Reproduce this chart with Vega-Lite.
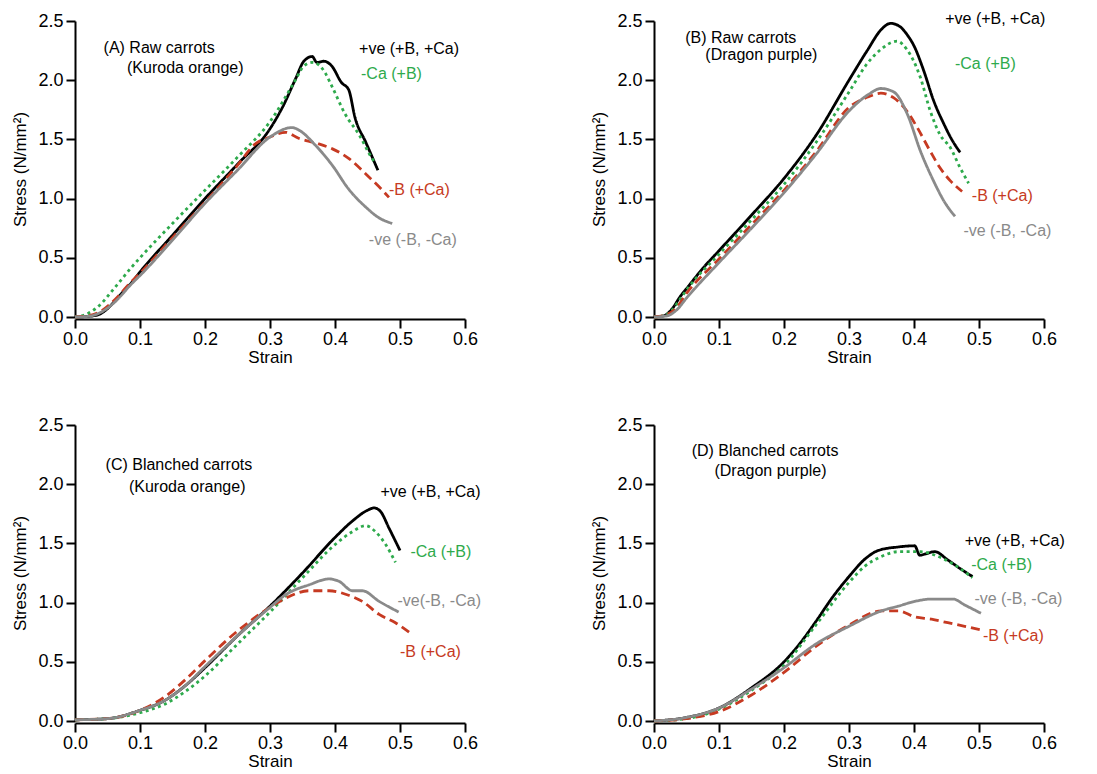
{
  "$schema": "https://vega.github.io/schema/vega-lite/v6.json",
  "padding": {"left": 11, "top": 10, "right": 5, "bottom": 0},
  "background": "white",
  "config": {
    "font": "Liberation Sans",
    "view": {"stroke": null},
    "header": {"labels": false, "title": null, "labelFontSize": 0, "labelPadding": 0, "labelExpr": "''"},
    "axis": {"grid": false, "labelFlush": false, "domainColor": "black", "domainWidth": 2, "tickColor": "black", "tickWidth": 2, "tickSize": 9, "labelFontSize": 18, "labelColor": "black", "titleFontSize": 17, "titleFontWeight": "normal", "titleColor": "black", "labelFont": "Liberation Sans", "titleFont": "Liberation Sans"}
  },
  "data": {"values": [
    {"k":"L","p":"A","s":"pos","x":0,"y":0},{"k":"L","p":"A","s":"pos","x":0.02,"y":0.005},{"k":"L","p":"A","s":"pos","x":0.036,"y":0.02},{"k":"L","p":"A","s":"pos","x":0.05,"y":0.07},{"k":"L","p":"A","s":"pos","x":0.062,"y":0.14},{"k":"L","p":"A","s":"pos","x":0.075,"y":0.22},{"k":"L","p":"A","s":"pos","x":0.087,"y":0.29},{"k":"L","p":"A","s":"pos","x":0.1,"y":0.38},{"k":"L","p":"A","s":"pos","x":0.15,"y":0.69},{"k":"L","p":"A","s":"pos","x":0.2,"y":1.0},{"k":"L","p":"A","s":"pos","x":0.25,"y":1.29},{"k":"L","p":"A","s":"pos","x":0.3,"y":1.59},{"k":"L","p":"A","s":"pos","x":0.32,"y":1.78},{"k":"L","p":"A","s":"pos","x":0.34,"y":2.02},{"k":"L","p":"A","s":"pos","x":0.352,"y":2.16},{"k":"L","p":"A","s":"pos","x":0.365,"y":2.2},{"k":"L","p":"A","s":"pos","x":0.372,"y":2.15},{"k":"L","p":"A","s":"pos","x":0.383,"y":2.16},{"k":"L","p":"A","s":"pos","x":0.395,"y":2.12},{"k":"L","p":"A","s":"pos","x":0.41,"y":1.98},{"k":"L","p":"A","s":"pos","x":0.421,"y":1.92},{"k":"L","p":"A","s":"pos","x":0.431,"y":1.68},{"k":"L","p":"A","s":"pos","x":0.447,"y":1.48},{"k":"L","p":"A","s":"pos","x":0.466,"y":1.24},
    {"k":"L","p":"A","s":"noCa","x":0,"y":0},{"k":"L","p":"A","s":"noCa","x":0.02,"y":0.03},{"k":"L","p":"A","s":"noCa","x":0.036,"y":0.09},{"k":"L","p":"A","s":"noCa","x":0.06,"y":0.24},{"k":"L","p":"A","s":"noCa","x":0.087,"y":0.42},{"k":"L","p":"A","s":"noCa","x":0.1,"y":0.5},{"k":"L","p":"A","s":"noCa","x":0.15,"y":0.79},{"k":"L","p":"A","s":"noCa","x":0.2,"y":1.07},{"k":"L","p":"A","s":"noCa","x":0.25,"y":1.35},{"k":"L","p":"A","s":"noCa","x":0.3,"y":1.65},{"k":"L","p":"A","s":"noCa","x":0.339,"y":2.0},{"k":"L","p":"A","s":"noCa","x":0.352,"y":2.12},{"k":"L","p":"A","s":"noCa","x":0.365,"y":2.15},{"k":"L","p":"A","s":"noCa","x":0.375,"y":2.13},{"k":"L","p":"A","s":"noCa","x":0.385,"y":2.06},{"k":"L","p":"A","s":"noCa","x":0.396,"y":1.94},{"k":"L","p":"A","s":"noCa","x":0.416,"y":1.71},{"k":"L","p":"A","s":"noCa","x":0.437,"y":1.54},{"k":"L","p":"A","s":"noCa","x":0.457,"y":1.34},{"k":"L","p":"A","s":"noCa","x":0.462,"y":1.3},
    {"k":"L","p":"A","s":"noB","x":0,"y":0},{"k":"L","p":"A","s":"noB","x":0.02,"y":0.01},{"k":"L","p":"A","s":"noB","x":0.04,"y":0.05},{"k":"L","p":"A","s":"noB","x":0.062,"y":0.15},{"k":"L","p":"A","s":"noB","x":0.087,"y":0.3},{"k":"L","p":"A","s":"noB","x":0.1,"y":0.37},{"k":"L","p":"A","s":"noB","x":0.15,"y":0.67},{"k":"L","p":"A","s":"noB","x":0.2,"y":0.97},{"k":"L","p":"A","s":"noB","x":0.25,"y":1.28},{"k":"L","p":"A","s":"noB","x":0.277,"y":1.46},{"k":"L","p":"A","s":"noB","x":0.3,"y":1.52},{"k":"L","p":"A","s":"noB","x":0.324,"y":1.56},{"k":"L","p":"A","s":"noB","x":0.344,"y":1.51},{"k":"L","p":"A","s":"noB","x":0.37,"y":1.47},{"k":"L","p":"A","s":"noB","x":0.396,"y":1.42},{"k":"L","p":"A","s":"noB","x":0.421,"y":1.34},{"k":"L","p":"A","s":"noB","x":0.447,"y":1.21},{"k":"L","p":"A","s":"noB","x":0.473,"y":1.07},{"k":"L","p":"A","s":"noB","x":0.483,"y":1.01},
    {"k":"L","p":"A","s":"neg","x":0,"y":0},{"k":"L","p":"A","s":"neg","x":0.02,"y":0.005},{"k":"L","p":"A","s":"neg","x":0.04,"y":0.04},{"k":"L","p":"A","s":"neg","x":0.062,"y":0.13},{"k":"L","p":"A","s":"neg","x":0.087,"y":0.28},{"k":"L","p":"A","s":"neg","x":0.1,"y":0.35},{"k":"L","p":"A","s":"neg","x":0.15,"y":0.65},{"k":"L","p":"A","s":"neg","x":0.2,"y":0.96},{"k":"L","p":"A","s":"neg","x":0.25,"y":1.24},{"k":"L","p":"A","s":"neg","x":0.3,"y":1.52},{"k":"L","p":"A","s":"neg","x":0.334,"y":1.6},{"k":"L","p":"A","s":"neg","x":0.344,"y":1.58},{"k":"L","p":"A","s":"neg","x":0.37,"y":1.45},{"k":"L","p":"A","s":"neg","x":0.396,"y":1.28},{"k":"L","p":"A","s":"neg","x":0.421,"y":1.08},{"k":"L","p":"A","s":"neg","x":0.447,"y":0.93},{"k":"L","p":"A","s":"neg","x":0.467,"y":0.84},{"k":"L","p":"A","s":"neg","x":0.488,"y":0.79},

    {"k":"L","p":"B","s":"pos","x":0,"y":0},{"k":"L","p":"B","s":"pos","x":0.015,"y":0.01},{"k":"L","p":"B","s":"pos","x":0.028,"y":0.07},{"k":"L","p":"B","s":"pos","x":0.04,"y":0.17},{"k":"L","p":"B","s":"pos","x":0.053,"y":0.26},{"k":"L","p":"B","s":"pos","x":0.075,"y":0.41},{"k":"L","p":"B","s":"pos","x":0.1,"y":0.56},{"k":"L","p":"B","s":"pos","x":0.15,"y":0.86},{"k":"L","p":"B","s":"pos","x":0.2,"y":1.17},{"k":"L","p":"B","s":"pos","x":0.25,"y":1.54},{"k":"L","p":"B","s":"pos","x":0.3,"y":2.0},{"k":"L","p":"B","s":"pos","x":0.328,"y":2.25},{"k":"L","p":"B","s":"pos","x":0.35,"y":2.43},{"k":"L","p":"B","s":"pos","x":0.364,"y":2.48},{"k":"L","p":"B","s":"pos","x":0.379,"y":2.45},{"k":"L","p":"B","s":"pos","x":0.39,"y":2.38},{"k":"L","p":"B","s":"pos","x":0.4,"y":2.29},{"k":"L","p":"B","s":"pos","x":0.415,"y":2.08},{"k":"L","p":"B","s":"pos","x":0.43,"y":1.83},{"k":"L","p":"B","s":"pos","x":0.446,"y":1.63},{"k":"L","p":"B","s":"pos","x":0.458,"y":1.5},{"k":"L","p":"B","s":"pos","x":0.471,"y":1.39},
    {"k":"L","p":"B","s":"noCa","x":0,"y":0},{"k":"L","p":"B","s":"noCa","x":0.015,"y":0.01},{"k":"L","p":"B","s":"noCa","x":0.028,"y":0.06},{"k":"L","p":"B","s":"noCa","x":0.04,"y":0.15},{"k":"L","p":"B","s":"noCa","x":0.053,"y":0.25},{"k":"L","p":"B","s":"noCa","x":0.1,"y":0.53},{"k":"L","p":"B","s":"noCa","x":0.15,"y":0.82},{"k":"L","p":"B","s":"noCa","x":0.2,"y":1.12},{"k":"L","p":"B","s":"noCa","x":0.25,"y":1.48},{"k":"L","p":"B","s":"noCa","x":0.3,"y":1.9},{"k":"L","p":"B","s":"noCa","x":0.328,"y":2.14},{"k":"L","p":"B","s":"noCa","x":0.349,"y":2.26},{"k":"L","p":"B","s":"noCa","x":0.374,"y":2.33},{"k":"L","p":"B","s":"noCa","x":0.389,"y":2.26},{"k":"L","p":"B","s":"noCa","x":0.41,"y":2.02},{"k":"L","p":"B","s":"noCa","x":0.425,"y":1.74},{"k":"L","p":"B","s":"noCa","x":0.44,"y":1.54},{"k":"L","p":"B","s":"noCa","x":0.456,"y":1.43},{"k":"L","p":"B","s":"noCa","x":0.471,"y":1.26},{"k":"L","p":"B","s":"noCa","x":0.484,"y":1.13},
    {"k":"L","p":"B","s":"noB","x":0,"y":0},{"k":"L","p":"B","s":"noB","x":0.02,"y":0.02},{"k":"L","p":"B","s":"noB","x":0.035,"y":0.08},{"k":"L","p":"B","s":"noB","x":0.05,"y":0.2},{"k":"L","p":"B","s":"noB","x":0.1,"y":0.49},{"k":"L","p":"B","s":"noB","x":0.15,"y":0.78},{"k":"L","p":"B","s":"noB","x":0.2,"y":1.07},{"k":"L","p":"B","s":"noB","x":0.25,"y":1.4},{"k":"L","p":"B","s":"noB","x":0.3,"y":1.77},{"k":"L","p":"B","s":"noB","x":0.33,"y":1.86},{"k":"L","p":"B","s":"noB","x":0.349,"y":1.89},{"k":"L","p":"B","s":"noB","x":0.369,"y":1.85},{"k":"L","p":"B","s":"noB","x":0.389,"y":1.74},{"k":"L","p":"B","s":"noB","x":0.405,"y":1.6},{"k":"L","p":"B","s":"noB","x":0.425,"y":1.4},{"k":"L","p":"B","s":"noB","x":0.44,"y":1.26},{"k":"L","p":"B","s":"noB","x":0.456,"y":1.15},{"k":"L","p":"B","s":"noB","x":0.474,"y":1.06},
    {"k":"L","p":"B","s":"neg","x":0,"y":0},{"k":"L","p":"B","s":"neg","x":0.02,"y":0.01},{"k":"L","p":"B","s":"neg","x":0.035,"y":0.06},{"k":"L","p":"B","s":"neg","x":0.05,"y":0.16},{"k":"L","p":"B","s":"neg","x":0.1,"y":0.46},{"k":"L","p":"B","s":"neg","x":0.15,"y":0.75},{"k":"L","p":"B","s":"neg","x":0.2,"y":1.05},{"k":"L","p":"B","s":"neg","x":0.25,"y":1.38},{"k":"L","p":"B","s":"neg","x":0.3,"y":1.74},{"k":"L","p":"B","s":"neg","x":0.33,"y":1.88},{"k":"L","p":"B","s":"neg","x":0.349,"y":1.93},{"k":"L","p":"B","s":"neg","x":0.369,"y":1.9},{"k":"L","p":"B","s":"neg","x":0.39,"y":1.71},{"k":"L","p":"B","s":"neg","x":0.41,"y":1.4},{"k":"L","p":"B","s":"neg","x":0.43,"y":1.15},{"k":"L","p":"B","s":"neg","x":0.446,"y":0.98},{"k":"L","p":"B","s":"neg","x":0.463,"y":0.85},

    {"k":"L","p":"C","s":"pos","x":0,"y":0.01},{"k":"L","p":"C","s":"pos","x":0.05,"y":0.02},{"k":"L","p":"C","s":"pos","x":0.1,"y":0.09},{"k":"L","p":"C","s":"pos","x":0.137,"y":0.17},{"k":"L","p":"C","s":"pos","x":0.17,"y":0.3},{"k":"L","p":"C","s":"pos","x":0.2,"y":0.45},{"k":"L","p":"C","s":"pos","x":0.25,"y":0.72},{"k":"L","p":"C","s":"pos","x":0.3,"y":0.97},{"k":"L","p":"C","s":"pos","x":0.35,"y":1.25},{"k":"L","p":"C","s":"pos","x":0.4,"y":1.55},{"k":"L","p":"C","s":"pos","x":0.427,"y":1.69},{"k":"L","p":"C","s":"pos","x":0.45,"y":1.78},{"k":"L","p":"C","s":"pos","x":0.46,"y":1.8},{"k":"L","p":"C","s":"pos","x":0.47,"y":1.77},{"k":"L","p":"C","s":"pos","x":0.483,"y":1.63},{"k":"L","p":"C","s":"pos","x":0.5,"y":1.44},
    {"k":"L","p":"C","s":"noCa","x":0,"y":0.01},{"k":"L","p":"C","s":"noCa","x":0.05,"y":0.02},{"k":"L","p":"C","s":"noCa","x":0.1,"y":0.07},{"k":"L","p":"C","s":"noCa","x":0.137,"y":0.14},{"k":"L","p":"C","s":"noCa","x":0.17,"y":0.25},{"k":"L","p":"C","s":"noCa","x":0.2,"y":0.38},{"k":"L","p":"C","s":"noCa","x":0.25,"y":0.65},{"k":"L","p":"C","s":"noCa","x":0.3,"y":0.92},{"k":"L","p":"C","s":"noCa","x":0.35,"y":1.21},{"k":"L","p":"C","s":"noCa","x":0.4,"y":1.49},{"k":"L","p":"C","s":"noCa","x":0.427,"y":1.6},{"k":"L","p":"C","s":"noCa","x":0.447,"y":1.65},{"k":"L","p":"C","s":"noCa","x":0.462,"y":1.6},{"k":"L","p":"C","s":"noCa","x":0.478,"y":1.49},{"k":"L","p":"C","s":"noCa","x":0.493,"y":1.34},
    {"k":"L","p":"C","s":"noB","x":0,"y":0.01},{"k":"L","p":"C","s":"noB","x":0.05,"y":0.02},{"k":"L","p":"C","s":"noB","x":0.1,"y":0.09},{"k":"L","p":"C","s":"noB","x":0.137,"y":0.2},{"k":"L","p":"C","s":"noB","x":0.17,"y":0.35},{"k":"L","p":"C","s":"noB","x":0.2,"y":0.51},{"k":"L","p":"C","s":"noB","x":0.25,"y":0.76},{"k":"L","p":"C","s":"noB","x":0.3,"y":0.96},{"k":"L","p":"C","s":"noB","x":0.325,"y":1.04},{"k":"L","p":"C","s":"noB","x":0.36,"y":1.1},{"k":"L","p":"C","s":"noB","x":0.391,"y":1.1},{"k":"L","p":"C","s":"noB","x":0.422,"y":1.06},{"k":"L","p":"C","s":"noB","x":0.442,"y":1.01},{"k":"L","p":"C","s":"noB","x":0.468,"y":0.9},{"k":"L","p":"C","s":"noB","x":0.493,"y":0.83},{"k":"L","p":"C","s":"noB","x":0.519,"y":0.73},
    {"k":"L","p":"C","s":"neg","x":0,"y":0.01},{"k":"L","p":"C","s":"neg","x":0.05,"y":0.02},{"k":"L","p":"C","s":"neg","x":0.1,"y":0.09},{"k":"L","p":"C","s":"neg","x":0.137,"y":0.17},{"k":"L","p":"C","s":"neg","x":0.17,"y":0.3},{"k":"L","p":"C","s":"neg","x":0.2,"y":0.46},{"k":"L","p":"C","s":"neg","x":0.25,"y":0.72},{"k":"L","p":"C","s":"neg","x":0.3,"y":0.96},{"k":"L","p":"C","s":"neg","x":0.325,"y":1.07},{"k":"L","p":"C","s":"neg","x":0.36,"y":1.15},{"k":"L","p":"C","s":"neg","x":0.391,"y":1.2},{"k":"L","p":"C","s":"neg","x":0.406,"y":1.18},{"k":"L","p":"C","s":"neg","x":0.427,"y":1.1},{"k":"L","p":"C","s":"neg","x":0.442,"y":1.1},{"k":"L","p":"C","s":"neg","x":0.468,"y":1.01},{"k":"L","p":"C","s":"neg","x":0.498,"y":0.92},

    {"k":"L","p":"D","s":"pos","x":0,"y":0},{"k":"L","p":"D","s":"pos","x":0.05,"y":0.03},{"k":"L","p":"D","s":"pos","x":0.1,"y":0.11},{"k":"L","p":"D","s":"pos","x":0.15,"y":0.28},{"k":"L","p":"D","s":"pos","x":0.2,"y":0.5},{"k":"L","p":"D","s":"pos","x":0.228,"y":0.68},{"k":"L","p":"D","s":"pos","x":0.249,"y":0.84},{"k":"L","p":"D","s":"pos","x":0.274,"y":1.04},{"k":"L","p":"D","s":"pos","x":0.3,"y":1.22},{"k":"L","p":"D","s":"pos","x":0.325,"y":1.37},{"k":"L","p":"D","s":"pos","x":0.345,"y":1.44},{"k":"L","p":"D","s":"pos","x":0.376,"y":1.47},{"k":"L","p":"D","s":"pos","x":0.401,"y":1.48},{"k":"L","p":"D","s":"pos","x":0.409,"y":1.4},{"k":"L","p":"D","s":"pos","x":0.417,"y":1.41},{"k":"L","p":"D","s":"pos","x":0.432,"y":1.43},{"k":"L","p":"D","s":"pos","x":0.452,"y":1.36},{"k":"L","p":"D","s":"pos","x":0.473,"y":1.28},{"k":"L","p":"D","s":"pos","x":0.49,"y":1.22},
    {"k":"L","p":"D","s":"noCa","x":0,"y":0},{"k":"L","p":"D","s":"noCa","x":0.05,"y":0.02},{"k":"L","p":"D","s":"noCa","x":0.1,"y":0.1},{"k":"L","p":"D","s":"noCa","x":0.15,"y":0.26},{"k":"L","p":"D","s":"noCa","x":0.2,"y":0.47},{"k":"L","p":"D","s":"noCa","x":0.249,"y":0.81},{"k":"L","p":"D","s":"noCa","x":0.3,"y":1.17},{"k":"L","p":"D","s":"noCa","x":0.325,"y":1.31},{"k":"L","p":"D","s":"noCa","x":0.35,"y":1.39},{"k":"L","p":"D","s":"noCa","x":0.376,"y":1.43},{"k":"L","p":"D","s":"noCa","x":0.41,"y":1.43},{"k":"L","p":"D","s":"noCa","x":0.437,"y":1.39},{"k":"L","p":"D","s":"noCa","x":0.462,"y":1.32},{"k":"L","p":"D","s":"noCa","x":0.49,"y":1.21},
    {"k":"L","p":"D","s":"noB","x":0,"y":0},{"k":"L","p":"D","s":"noB","x":0.05,"y":0.02},{"k":"L","p":"D","s":"noB","x":0.1,"y":0.08},{"k":"L","p":"D","s":"noB","x":0.15,"y":0.22},{"k":"L","p":"D","s":"noB","x":0.2,"y":0.41},{"k":"L","p":"D","s":"noB","x":0.249,"y":0.63},{"k":"L","p":"D","s":"noB","x":0.3,"y":0.81},{"k":"L","p":"D","s":"noB","x":0.35,"y":0.93},{"k":"L","p":"D","s":"noB","x":0.376,"y":0.93},{"k":"L","p":"D","s":"noB","x":0.401,"y":0.88},{"k":"L","p":"D","s":"noB","x":0.427,"y":0.86},{"k":"L","p":"D","s":"noB","x":0.452,"y":0.83},{"k":"L","p":"D","s":"noB","x":0.478,"y":0.8},{"k":"L","p":"D","s":"noB","x":0.503,"y":0.77},
    {"k":"L","p":"D","s":"neg","x":0,"y":0},{"k":"L","p":"D","s":"neg","x":0.05,"y":0.03},{"k":"L","p":"D","s":"neg","x":0.1,"y":0.11},{"k":"L","p":"D","s":"neg","x":0.15,"y":0.27},{"k":"L","p":"D","s":"neg","x":0.2,"y":0.45},{"k":"L","p":"D","s":"neg","x":0.249,"y":0.65},{"k":"L","p":"D","s":"neg","x":0.3,"y":0.8},{"k":"L","p":"D","s":"neg","x":0.35,"y":0.93},{"k":"L","p":"D","s":"neg","x":0.376,"y":0.97},{"k":"L","p":"D","s":"neg","x":0.401,"y":1.01},{"k":"L","p":"D","s":"neg","x":0.427,"y":1.03},{"k":"L","p":"D","s":"neg","x":0.46,"y":1.03},{"k":"L","p":"D","s":"neg","x":0.478,"y":0.98},{"k":"L","p":"D","s":"neg","x":0.503,"y":0.91},

    {"k":"T","p":"A","s":"title","x":0.044,"y":2.27,"t":"(A) Raw carrots"},{"k":"T","p":"A","s":"title","x":0.08,"y":2.1,"t":"(Kuroda orange)"},{"k":"T","p":"A","s":"pos","x":0.437,"y":2.26,"t":"+ve (+B, +Ca)"},{"k":"T","p":"A","s":"noCa","x":0.44,"y":2.05,"t":"-Ca (+B)"},{"k":"T","p":"A","s":"noB","x":0.483,"y":1.07,"t":"-B (+Ca)"},{"k":"T","p":"A","s":"neg","x":0.452,"y":0.65,"t":"-ve (-B, -Ca)"},
    {"k":"T","p":"B","s":"title","x":0.048,"y":2.36,"t":"(B) Raw carrots"},{"k":"T","p":"B","s":"title","x":0.079,"y":2.21,"t":"(Dragon purple)"},{"k":"T","p":"B","s":"pos","x":0.448,"y":2.52,"t":"+ve (+B, +Ca)"},{"k":"T","p":"B","s":"noCa","x":0.463,"y":2.14,"t":"-Ca (+B)"},{"k":"T","p":"B","s":"noB","x":0.489,"y":1.02,"t":"-B (+Ca)"},{"k":"T","p":"B","s":"neg","x":0.476,"y":0.73,"t":"-ve (-B, -Ca)"},
    {"k":"T","p":"C","s":"title","x":0.047,"y":2.16,"t":"(C) Blanched carrots"},{"k":"T","p":"C","s":"title","x":0.083,"y":1.98,"t":"(Kuroda orange)"},{"k":"T","p":"C","s":"pos","x":0.47,"y":1.93,"t":"+ve (+B, +Ca)"},{"k":"T","p":"C","s":"noCa","x":0.516,"y":1.43,"t":"-Ca (+B)"},{"k":"T","p":"C","s":"neg","x":0.496,"y":1.01,"t":"-ve(-B, -Ca)"},{"k":"T","p":"C","s":"noB","x":0.5,"y":0.58,"t":"-B (+Ca)"},
    {"k":"T","p":"D","s":"title","x":0.058,"y":2.28,"t":"(D) Blanched carrots"},{"k":"T","p":"D","s":"title","x":0.093,"y":2.11,"t":"(Dragon purple)"},{"k":"T","p":"D","s":"pos","x":0.478,"y":1.52,"t":"+ve (+B, +Ca)"},{"k":"T","p":"D","s":"noCa","x":0.488,"y":1.32,"t":"-Ca (+B)"},{"k":"T","p":"D","s":"neg","x":0.493,"y":1.03,"t":"-ve (-B, -Ca)"},{"k":"T","p":"D","s":"noB","x":0.506,"y":0.72,"t":"-B (+Ca)"}
  ]},
  "facet": {"field": "p", "type": "nominal", "header": {"labels": false, "title": null, "labelExpr": "''", "labelFontSize": 0, "labelPadding": 0}},
  "columns": 2,
  "spacing": {"column": 104, "row": 51},
  "resolve": {"axis": {"x": "independent", "y": "independent"}},
  "spec": {
    "width": 390,
    "height": 296,
    "layer": [
      {
        "transform": [{"filter": "datum.k === 'L'"}],
        "mark": {"type": "line", "strokeWidth": 2.8, "interpolate": "monotone", "strokeCap": "butt"},
        "encoding": {
          "x": {"field": "x", "type": "quantitative", "scale": {"domain": [0, 0.6], "nice": false}, "axis": {"title": "Strain", "values": [0, 0.1, 0.2, 0.3, 0.4, 0.5, 0.6], "format": ".1f", "offset": 2, "labelPadding": 2, "titlePadding": 1}},
          "y": {"field": "y", "type": "quantitative", "scale": {"domain": [0, 2.5], "nice": false}, "axis": {"title": "Stress (N/mm²)", "values": [0, 0.5, 1, 1.5, 2, 2.5], "format": ".1f", "labelPadding": 3, "titlePadding": 8}},
          "detail": {"field": "s"},
          "color": {"field": "s", "type": "nominal", "legend": null, "scale": {"domain": ["pos", "noCa", "noB", "neg", "title"], "range": ["#000000", "#2eaa4c", "#c63a22", "#8a8a8a", "#000000"]}},
          "strokeDash": {"field": "s", "type": "nominal", "legend": null, "scale": {"domain": ["pos", "noCa", "noB", "neg"], "range": [[1, 0], [3, 3.5], [9, 5], [1, 0]]}}
        }
      },
      {
        "transform": [{"filter": "datum.k === 'T'"}],
        "mark": {"type": "text", "align": "left", "baseline": "middle", "fontSize": 16, "font": "Liberation Sans"},
        "encoding": {
          "x": {"field": "x", "type": "quantitative"},
          "y": {"field": "y", "type": "quantitative"},
          "text": {"field": "t"},
          "color": {"field": "s", "type": "nominal", "legend": null}
        }
      }
    ]
  }
}
